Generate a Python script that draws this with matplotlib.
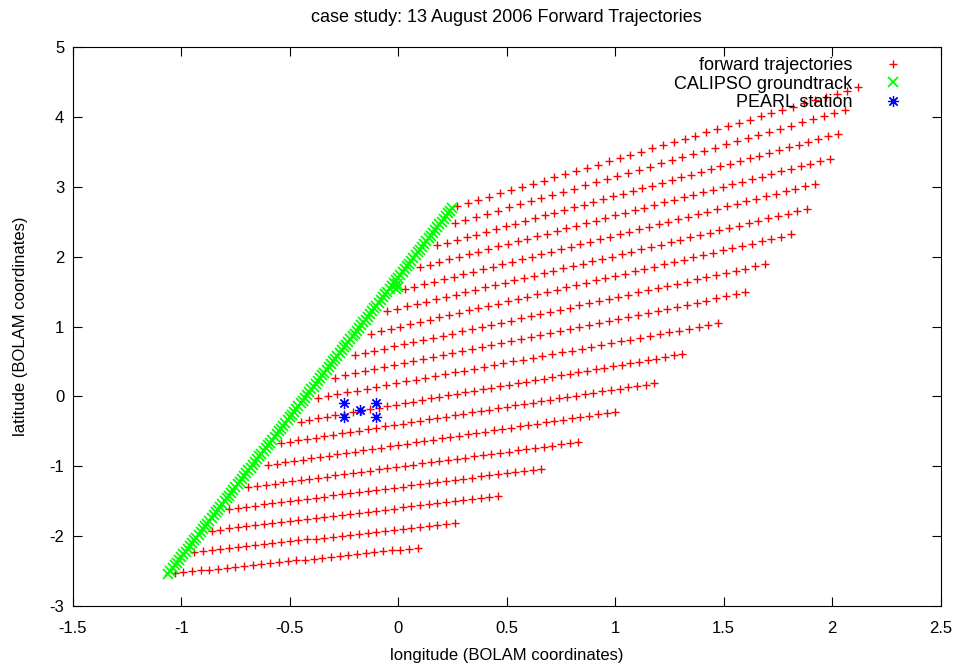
import matplotlib.pyplot as plt

# forward trajectory fixes (lon, lat), one list per starting point on the track
trajectories = [
    [(-1.03, -2.530), (-0.99, -2.517), (-0.95, -2.504), (-0.91, -2.491), (-0.87, -2.478), (-0.83, -2.465),
     (-0.79, -2.452), (-0.75, -2.439), (-0.71, -2.426), (-0.67, -2.413), (-0.63, -2.400), (-0.59, -2.387),
     (-0.55, -2.374), (-0.51, -2.361), (-0.47, -2.348), (-0.43, -2.335), (-0.39, -2.322), (-0.35, -2.309),
     (-0.31, -2.296), (-0.27, -2.283), (-0.23, -2.270), (-0.19, -2.257), (-0.15, -2.244), (-0.11, -2.231),
     (-0.07, -2.218), (-0.03, -2.205), (0.01, -2.192), (0.05, -2.179), (0.09, -2.166)],
    [(-0.94, -2.230), (-0.90, -2.216), (-0.86, -2.202), (-0.82, -2.188), (-0.78, -2.174), (-0.74, -2.160),
     (-0.70, -2.146), (-0.66, -2.132), (-0.62, -2.118), (-0.58, -2.104), (-0.54, -2.090), (-0.50, -2.076),
     (-0.46, -2.062), (-0.42, -2.048), (-0.38, -2.034), (-0.34, -2.020), (-0.30, -2.006), (-0.26, -1.992),
     (-0.22, -1.978), (-0.18, -1.964), (-0.14, -1.950), (-0.10, -1.936), (-0.06, -1.922), (-0.02, -1.908),
     (0.02, -1.894), (0.06, -1.880), (0.10, -1.866), (0.14, -1.852), (0.18, -1.838), (0.22, -1.824),
     (0.26, -1.810)],
    [(-0.86, -1.920), (-0.82, -1.905), (-0.78, -1.890), (-0.74, -1.875), (-0.70, -1.860), (-0.66, -1.845),
     (-0.62, -1.830), (-0.58, -1.815), (-0.54, -1.800), (-0.50, -1.785), (-0.46, -1.770), (-0.42, -1.755),
     (-0.38, -1.740), (-0.34, -1.725), (-0.30, -1.710), (-0.26, -1.695), (-0.22, -1.680), (-0.18, -1.665),
     (-0.14, -1.650), (-0.10, -1.635), (-0.06, -1.620), (-0.02, -1.605), (0.02, -1.590), (0.06, -1.575),
     (0.10, -1.560), (0.14, -1.545), (0.18, -1.530), (0.22, -1.515), (0.26, -1.500), (0.30, -1.485),
     (0.34, -1.470), (0.38, -1.455), (0.42, -1.440), (0.46, -1.425)],
    [(-0.78, -1.610), (-0.74, -1.594), (-0.70, -1.578), (-0.66, -1.562), (-0.62, -1.546), (-0.58, -1.530),
     (-0.54, -1.514), (-0.50, -1.498), (-0.46, -1.482), (-0.42, -1.466), (-0.38, -1.450), (-0.34, -1.434),
     (-0.30, -1.418), (-0.26, -1.402), (-0.22, -1.386), (-0.18, -1.370), (-0.14, -1.354), (-0.10, -1.338),
     (-0.06, -1.322), (-0.02, -1.306), (0.02, -1.290), (0.06, -1.274), (0.10, -1.258), (0.14, -1.242),
     (0.18, -1.226), (0.22, -1.210), (0.26, -1.194), (0.30, -1.178), (0.34, -1.162), (0.38, -1.146),
     (0.42, -1.130), (0.46, -1.114), (0.50, -1.098), (0.54, -1.082), (0.58, -1.066), (0.62, -1.050),
     (0.66, -1.034)],
    [(-0.69, -1.300), (-0.65, -1.283), (-0.61, -1.266), (-0.57, -1.249), (-0.53, -1.232), (-0.49, -1.215),
     (-0.45, -1.198), (-0.41, -1.181), (-0.37, -1.164), (-0.33, -1.147), (-0.29, -1.130), (-0.25, -1.113),
     (-0.21, -1.096), (-0.17, -1.079), (-0.13, -1.062), (-0.09, -1.045), (-0.05, -1.028), (-0.01, -1.011),
     (0.03, -0.994), (0.07, -0.977), (0.11, -0.960), (0.15, -0.943), (0.19, -0.926), (0.23, -0.909),
     (0.27, -0.892), (0.31, -0.875), (0.35, -0.858), (0.39, -0.841), (0.43, -0.824), (0.47, -0.807),
     (0.51, -0.790), (0.55, -0.773), (0.59, -0.756), (0.63, -0.739), (0.67, -0.722), (0.71, -0.705),
     (0.75, -0.688), (0.79, -0.671), (0.83, -0.654)],
    [(-0.60, -0.980), (-0.56, -0.961), (-0.52, -0.942), (-0.48, -0.923), (-0.44, -0.904), (-0.40, -0.885),
     (-0.36, -0.866), (-0.32, -0.847), (-0.28, -0.828), (-0.24, -0.809), (-0.20, -0.790), (-0.16, -0.771),
     (-0.12, -0.752), (-0.08, -0.733), (-0.04, -0.714), (0.00, -0.695), (0.04, -0.676), (0.08, -0.657),
     (0.12, -0.638), (0.16, -0.619), (0.20, -0.600), (0.24, -0.581), (0.28, -0.562), (0.32, -0.543),
     (0.36, -0.524), (0.40, -0.505), (0.44, -0.486), (0.48, -0.467), (0.52, -0.448), (0.56, -0.429),
     (0.60, -0.410), (0.64, -0.391), (0.68, -0.372), (0.72, -0.353), (0.76, -0.334), (0.80, -0.315),
     (0.84, -0.296), (0.88, -0.277), (0.92, -0.258), (0.96, -0.239), (1.00, -0.220)],
    [(-0.54, -0.67), (-0.50, -0.65), (-0.46, -0.63), (-0.42, -0.61), (-0.38, -0.59), (-0.34, -0.57),
     (-0.30, -0.55), (-0.26, -0.53), (-0.22, -0.51), (-0.18, -0.49), (-0.14, -0.47), (-0.10, -0.45),
     (-0.06, -0.43), (-0.02, -0.41), (0.02, -0.39), (0.06, -0.37), (0.10, -0.35), (0.14, -0.33),
     (0.18, -0.31), (0.22, -0.29), (0.26, -0.27), (0.30, -0.25), (0.34, -0.23), (0.38, -0.21),
     (0.42, -0.19), (0.46, -0.17), (0.50, -0.15), (0.54, -0.13), (0.58, -0.11), (0.62, -0.09),
     (0.66, -0.07), (0.70, -0.05), (0.74, -0.03), (0.78, -0.01), (0.82, 0.01), (0.86, 0.03),
     (0.90, 0.05), (0.94, 0.07), (0.98, 0.09), (1.02, 0.11), (1.06, 0.13), (1.10, 0.15),
     (1.14, 0.17), (1.18, 0.19)],
    [(-0.45, -0.360), (-0.41, -0.338), (-0.37, -0.316), (-0.33, -0.294), (-0.29, -0.272), (-0.25, -0.250),
     (-0.21, -0.228), (-0.17, -0.206), (-0.13, -0.184), (-0.09, -0.162), (-0.05, -0.140), (-0.01, -0.118),
     (0.03, -0.096), (0.07, -0.074), (0.11, -0.052), (0.15, -0.030), (0.19, -0.008), (0.23, 0.014),
     (0.27, 0.036), (0.31, 0.058), (0.35, 0.080), (0.39, 0.102), (0.43, 0.124), (0.47, 0.146),
     (0.51, 0.168), (0.55, 0.190), (0.59, 0.212), (0.63, 0.234), (0.67, 0.256), (0.71, 0.278),
     (0.75, 0.300), (0.79, 0.322), (0.83, 0.344), (0.87, 0.366), (0.91, 0.388), (0.95, 0.410),
     (0.99, 0.432), (1.03, 0.454), (1.07, 0.476), (1.11, 0.498), (1.15, 0.520), (1.19, 0.542),
     (1.23, 0.564), (1.27, 0.586), (1.31, 0.608)],
    [(-0.370, -0.020), (-0.325, 0.006), (-0.280, 0.032), (-0.235, 0.058), (-0.190, 0.084), (-0.145, 0.110),
     (-0.100, 0.136), (-0.055, 0.162), (-0.010, 0.188), (0.035, 0.214), (0.080, 0.240), (0.125, 0.266),
     (0.170, 0.292), (0.215, 0.318), (0.260, 0.344), (0.305, 0.370), (0.350, 0.396), (0.395, 0.422),
     (0.440, 0.448), (0.485, 0.474), (0.530, 0.500), (0.575, 0.526), (0.620, 0.552), (0.665, 0.578),
     (0.710, 0.604), (0.755, 0.630), (0.800, 0.656), (0.845, 0.682), (0.890, 0.708), (0.935, 0.734),
     (0.980, 0.760), (1.025, 0.786), (1.070, 0.812), (1.115, 0.838), (1.160, 0.864), (1.205, 0.890),
     (1.250, 0.916), (1.295, 0.942), (1.340, 0.968), (1.385, 0.994), (1.430, 1.020), (1.475, 1.046)],
    [(-0.290, 0.270), (-0.245, 0.299), (-0.200, 0.328), (-0.155, 0.357), (-0.110, 0.386), (-0.065, 0.415),
     (-0.020, 0.444), (0.025, 0.473), (0.070, 0.502), (0.115, 0.531), (0.160, 0.560), (0.205, 0.589),
     (0.250, 0.618), (0.295, 0.647), (0.340, 0.676), (0.385, 0.705), (0.430, 0.734), (0.475, 0.763),
     (0.520, 0.792), (0.565, 0.821), (0.610, 0.850), (0.655, 0.879), (0.700, 0.908), (0.745, 0.937),
     (0.790, 0.966), (0.835, 0.995), (0.880, 1.024), (0.925, 1.053), (0.970, 1.082), (1.015, 1.111),
     (1.060, 1.140), (1.105, 1.169), (1.150, 1.198), (1.195, 1.227), (1.240, 1.256), (1.285, 1.285),
     (1.330, 1.314), (1.375, 1.343), (1.420, 1.372), (1.465, 1.401), (1.510, 1.430), (1.555, 1.459),
     (1.600, 1.488)],
    [(-0.200, 0.590), (-0.155, 0.621), (-0.110, 0.652), (-0.065, 0.683), (-0.020, 0.714), (0.025, 0.745),
     (0.070, 0.776), (0.115, 0.807), (0.160, 0.838), (0.205, 0.869), (0.250, 0.900), (0.295, 0.931),
     (0.340, 0.962), (0.385, 0.993), (0.430, 1.024), (0.475, 1.055), (0.520, 1.086), (0.565, 1.117),
     (0.610, 1.148), (0.655, 1.179), (0.700, 1.210), (0.745, 1.241), (0.790, 1.272), (0.835, 1.303),
     (0.880, 1.334), (0.925, 1.365), (0.970, 1.396), (1.015, 1.427), (1.060, 1.458), (1.105, 1.489),
     (1.150, 1.520), (1.195, 1.551), (1.240, 1.582), (1.285, 1.613), (1.330, 1.644), (1.375, 1.675),
     (1.420, 1.706), (1.465, 1.737), (1.510, 1.768), (1.555, 1.799), (1.600, 1.830), (1.645, 1.861),
     (1.690, 1.892)],
    [(-0.125, 0.900), (-0.080, 0.933), (-0.035, 0.966), (0.010, 0.999), (0.055, 1.032), (0.100, 1.065),
     (0.145, 1.098), (0.190, 1.131), (0.235, 1.164), (0.280, 1.197), (0.325, 1.230), (0.370, 1.263),
     (0.415, 1.296), (0.460, 1.329), (0.505, 1.362), (0.550, 1.395), (0.595, 1.428), (0.640, 1.461),
     (0.685, 1.494), (0.730, 1.527), (0.775, 1.560), (0.820, 1.593), (0.865, 1.626), (0.910, 1.659),
     (0.955, 1.692), (1.000, 1.725), (1.045, 1.758), (1.090, 1.791), (1.135, 1.824), (1.180, 1.857),
     (1.225, 1.890), (1.270, 1.923), (1.315, 1.956), (1.360, 1.989), (1.405, 2.022), (1.450, 2.055),
     (1.495, 2.088), (1.540, 2.121), (1.585, 2.154), (1.630, 2.187), (1.675, 2.220), (1.720, 2.253),
     (1.765, 2.286), (1.810, 2.319)],
    [(-0.050, 1.220), (-0.005, 1.254), (0.040, 1.288), (0.085, 1.322), (0.130, 1.356), (0.175, 1.390),
     (0.220, 1.424), (0.265, 1.458), (0.310, 1.492), (0.355, 1.526), (0.400, 1.560), (0.445, 1.594),
     (0.490, 1.628), (0.535, 1.662), (0.580, 1.696), (0.625, 1.730), (0.670, 1.764), (0.715, 1.798),
     (0.760, 1.832), (0.805, 1.866), (0.850, 1.900), (0.895, 1.934), (0.940, 1.968), (0.985, 2.002),
     (1.030, 2.036), (1.075, 2.070), (1.120, 2.104), (1.165, 2.138), (1.210, 2.172), (1.255, 2.206),
     (1.300, 2.240), (1.345, 2.274), (1.390, 2.308), (1.435, 2.342), (1.480, 2.376), (1.525, 2.410),
     (1.570, 2.444), (1.615, 2.478), (1.660, 2.512), (1.705, 2.546), (1.750, 2.580), (1.795, 2.614),
     (1.840, 2.648), (1.885, 2.682)],
    [(0.030, 1.530), (0.075, 1.566), (0.120, 1.602), (0.165, 1.638), (0.210, 1.674), (0.255, 1.710),
     (0.300, 1.746), (0.345, 1.782), (0.390, 1.818), (0.435, 1.854), (0.480, 1.890), (0.525, 1.926),
     (0.570, 1.962), (0.615, 1.998), (0.660, 2.034), (0.705, 2.070), (0.750, 2.106), (0.795, 2.142),
     (0.840, 2.178), (0.885, 2.214), (0.930, 2.250), (0.975, 2.286), (1.020, 2.322), (1.065, 2.358),
     (1.110, 2.394), (1.155, 2.430), (1.200, 2.466), (1.245, 2.502), (1.290, 2.538), (1.335, 2.574),
     (1.380, 2.610), (1.425, 2.646), (1.470, 2.682), (1.515, 2.718), (1.560, 2.754), (1.605, 2.790),
     (1.650, 2.826), (1.695, 2.862), (1.740, 2.898), (1.785, 2.934), (1.830, 2.970), (1.875, 3.006),
     (1.920, 3.042)],
    [(0.100, 1.850), (0.145, 1.887), (0.190, 1.924), (0.235, 1.961), (0.280, 1.998), (0.325, 2.035),
     (0.370, 2.072), (0.415, 2.109), (0.460, 2.146), (0.505, 2.183), (0.550, 2.220), (0.595, 2.257),
     (0.640, 2.294), (0.685, 2.331), (0.730, 2.368), (0.775, 2.405), (0.820, 2.442), (0.865, 2.479),
     (0.910, 2.516), (0.955, 2.553), (1.000, 2.590), (1.045, 2.627), (1.090, 2.664), (1.135, 2.701),
     (1.180, 2.738), (1.225, 2.775), (1.270, 2.812), (1.315, 2.849), (1.360, 2.886), (1.405, 2.923),
     (1.450, 2.960), (1.495, 2.997), (1.540, 3.034), (1.585, 3.071), (1.630, 3.108), (1.675, 3.145),
     (1.720, 3.182), (1.765, 3.219), (1.810, 3.256), (1.855, 3.293), (1.900, 3.330), (1.945, 3.367),
     (1.990, 3.404)],
    [(0.180, 2.160), (0.225, 2.199), (0.270, 2.238), (0.315, 2.277), (0.360, 2.316), (0.405, 2.355),
     (0.450, 2.394), (0.495, 2.433), (0.540, 2.472), (0.585, 2.511), (0.630, 2.550), (0.675, 2.589),
     (0.720, 2.628), (0.765, 2.667), (0.810, 2.706), (0.855, 2.745), (0.900, 2.784), (0.945, 2.823),
     (0.990, 2.862), (1.035, 2.901), (1.080, 2.940), (1.125, 2.979), (1.170, 3.018), (1.215, 3.057),
     (1.260, 3.096), (1.305, 3.135), (1.350, 3.174), (1.395, 3.213), (1.440, 3.252), (1.485, 3.291),
     (1.530, 3.330), (1.575, 3.369), (1.620, 3.408), (1.665, 3.447), (1.710, 3.486), (1.755, 3.525),
     (1.800, 3.564), (1.845, 3.603), (1.890, 3.642), (1.935, 3.681), (1.980, 3.720), (2.025, 3.759)],
    [(0.26, 2.480), (0.31, 2.525), (0.36, 2.570), (0.41, 2.615), (0.46, 2.660), (0.51, 2.705),
     (0.56, 2.750), (0.61, 2.795), (0.66, 2.840), (0.71, 2.885), (0.76, 2.930), (0.81, 2.975),
     (0.86, 3.020), (0.91, 3.065), (0.96, 3.110), (1.01, 3.155), (1.06, 3.200), (1.11, 3.245),
     (1.16, 3.290), (1.21, 3.335), (1.26, 3.380), (1.31, 3.425), (1.36, 3.470), (1.41, 3.515),
     (1.46, 3.560), (1.51, 3.605), (1.56, 3.650), (1.61, 3.695), (1.66, 3.740), (1.71, 3.785),
     (1.76, 3.830), (1.81, 3.875), (1.86, 3.920), (1.91, 3.965), (1.96, 4.010), (2.01, 4.055),
     (2.06, 4.100)],
    [(0.27, 2.720), (0.32, 2.766), (0.37, 2.812), (0.42, 2.858), (0.47, 2.904), (0.52, 2.950),
     (0.57, 2.996), (0.62, 3.042), (0.67, 3.088), (0.72, 3.134), (0.77, 3.180), (0.82, 3.226),
     (0.87, 3.272), (0.92, 3.318), (0.97, 3.364), (1.02, 3.410), (1.07, 3.456), (1.12, 3.502),
     (1.17, 3.548), (1.22, 3.594), (1.27, 3.640), (1.32, 3.686), (1.37, 3.732), (1.42, 3.778),
     (1.47, 3.824), (1.52, 3.870), (1.57, 3.916), (1.62, 3.962), (1.67, 4.008), (1.72, 4.054),
     (1.77, 4.100), (1.82, 4.146), (1.87, 4.192), (1.92, 4.238), (1.97, 4.284), (2.02, 4.330),
     (2.07, 4.376), (2.12, 4.422)],
]

# CALIPSO groundtrack samples (lon, lat)
calipso_track = [
    (-1.06, -2.54), (-1.05, -2.50), (-1.04, -2.46), (-1.03, -2.42), (-1.02, -2.38), (-1.01, -2.34),
    (-1.00, -2.30), (-0.99, -2.26), (-0.98, -2.22), (-0.97, -2.18), (-0.96, -2.14), (-0.95, -2.10),
    (-0.94, -2.06), (-0.93, -2.02), (-0.92, -1.98), (-0.91, -1.94), (-0.90, -1.90), (-0.89, -1.86),
    (-0.88, -1.82), (-0.87, -1.78), (-0.86, -1.74), (-0.85, -1.70), (-0.84, -1.66), (-0.83, -1.62),
    (-0.82, -1.58), (-0.81, -1.54), (-0.80, -1.50), (-0.79, -1.46), (-0.78, -1.42), (-0.77, -1.38),
    (-0.76, -1.34), (-0.75, -1.30), (-0.74, -1.26), (-0.73, -1.22), (-0.72, -1.18), (-0.71, -1.14),
    (-0.70, -1.10), (-0.69, -1.06), (-0.68, -1.02), (-0.67, -0.98), (-0.66, -0.94), (-0.65, -0.90),
    (-0.64, -0.86), (-0.63, -0.82), (-0.62, -0.78), (-0.61, -0.74), (-0.60, -0.70), (-0.59, -0.66),
    (-0.58, -0.62), (-0.57, -0.58), (-0.56, -0.54), (-0.55, -0.50), (-0.54, -0.46), (-0.53, -0.42),
    (-0.52, -0.38), (-0.51, -0.34), (-0.50, -0.30), (-0.49, -0.26), (-0.48, -0.22), (-0.47, -0.18),
    (-0.46, -0.14), (-0.45, -0.10), (-0.44, -0.06), (-0.43, -0.02), (-0.42, 0.02), (-0.41, 0.06),
    (-0.40, 0.10), (-0.39, 0.14), (-0.38, 0.18), (-0.37, 0.22), (-0.36, 0.26), (-0.35, 0.30),
    (-0.34, 0.34), (-0.33, 0.38), (-0.32, 0.42), (-0.31, 0.46), (-0.30, 0.50), (-0.29, 0.54),
    (-0.28, 0.58), (-0.27, 0.62), (-0.26, 0.66), (-0.25, 0.70), (-0.24, 0.74), (-0.23, 0.78),
    (-0.22, 0.82), (-0.21, 0.86), (-0.20, 0.90), (-0.19, 0.94), (-0.18, 0.98), (-0.17, 1.02),
    (-0.16, 1.06), (-0.15, 1.10), (-0.14, 1.14), (-0.13, 1.18), (-0.12, 1.22), (-0.11, 1.26),
    (-0.10, 1.30), (-0.09, 1.34), (-0.08, 1.38), (-0.07, 1.42), (-0.06, 1.46), (-0.05, 1.50),
    (-0.04, 1.54), (-0.03, 1.58), (-0.02, 1.62), (-0.01, 1.66), (0.00, 1.70), (0.01, 1.74),
    (0.02, 1.78), (0.03, 1.82), (0.04, 1.86), (0.05, 1.90), (0.06, 1.94), (0.07, 1.98),
    (0.08, 2.02), (0.09, 2.06), (0.10, 2.10), (0.11, 2.14), (0.12, 2.18), (0.13, 2.22),
    (0.14, 2.26), (0.15, 2.30), (0.16, 2.34), (0.17, 2.38), (0.18, 2.42), (0.19, 2.46),
    (0.20, 2.50), (0.21, 2.54), (0.22, 2.58), (0.23, 2.62), (0.24, 2.66), (0.25, 2.70),
    (-0.01, 1.53), (0.00, 1.57), (-0.005, 1.61),
]

# PEARL station grid points
pearl_lon = [-0.25, -0.25, -0.175, -0.10, -0.10]
pearl_lat = [-0.10, -0.30, -0.20, -0.10, -0.30]

xticks = [-1.5, -1.0, -0.5, 0.0, 0.5, 1.0, 1.5, 2.0, 2.5]
xtick_labels = ['-1.5', '-1', '-0.5', '0', '0.5', '1', '1.5', '2', '2.5']
yticks = [-3, -2, -1, 0, 1, 2, 3, 4, 5]
ytick_labels = ['-3', '-2', '-1', '0', '1', '2', '3', '4', '5']

plt.rcParams['font.family'] = ['Liberation Sans', 'DejaVu Sans']
plt.rcParams['font.size'] = 12

fig = plt.figure(figsize=(9.59, 6.65), dpi=100)
ax = fig.add_axes([0.0758, 0.0887, 0.9051, 0.8406])

# trajectory fixes
traj_lon = [p[0] for row in trajectories for p in row]
traj_lat = [p[1] for row in trajectories for p in row]
ax.plot(traj_lon, traj_lat, ls='none', marker='+', ms=6.2, mew=1.0,
        color='#ff0000', label='forward trajectories')

# satellite track
track_lon = [p[0] for p in calipso_track]
track_lat = [p[1] for p in calipso_track]
ax.plot(track_lon, track_lat, ls='none', marker='x', ms=6.5, mew=1.3,
        color='#00ff00', label='CALIPSO groundtrack')

# station
ax.plot(pearl_lon, pearl_lat, ls='none', marker=(8, 2, 0), ms=8, mew=0.9,
        color='#0000ff', label='PEARL station')

ax.set_xlim(-1.5, 2.5)
ax.set_ylim(-3, 5)
ax.set_xticks(xticks)
ax.set_xticklabels(xtick_labels)
ax.set_yticks(yticks)
ax.set_yticklabels(ytick_labels)
ax.tick_params(direction='in', top=True, right=True, length=6.5, width=0.8)
ax.tick_params(axis='x', pad=11)
ax.tick_params(axis='y', pad=6)
for s in ax.spines.values():
    s.set_linewidth(0.8)

# axis labels and title
ax.set_xlabel('longitude (BOLAM coordinates)')
ax.xaxis.set_label_coords(0.5, -0.0877)
ax.xaxis.label.set_verticalalignment('center')
ax.set_ylabel('latitude (BOLAM coordinates)')
ax.yaxis.set_label_coords(-0.0607, 0.5)
ax.yaxis.label.set_verticalalignment('center')
ax.set_title('case study: 13 August 2006 Forward Trajectories', fontsize=13,
             y=1.052, pad=0, verticalalignment='center')

# key in the top right, text right-justified before the sample point
ax.legend(loc='upper right', bbox_to_anchor=(0.9546, 0.982), markerfirst=False,
          frameon=False, borderaxespad=0, borderpad=0, handlelength=0.95,
          handletextpad=1.75, labelspacing=0.08, handleheight=0.7, numpoints=1,
          fontsize=13)

fig.savefig('out.png', dpi=100)
